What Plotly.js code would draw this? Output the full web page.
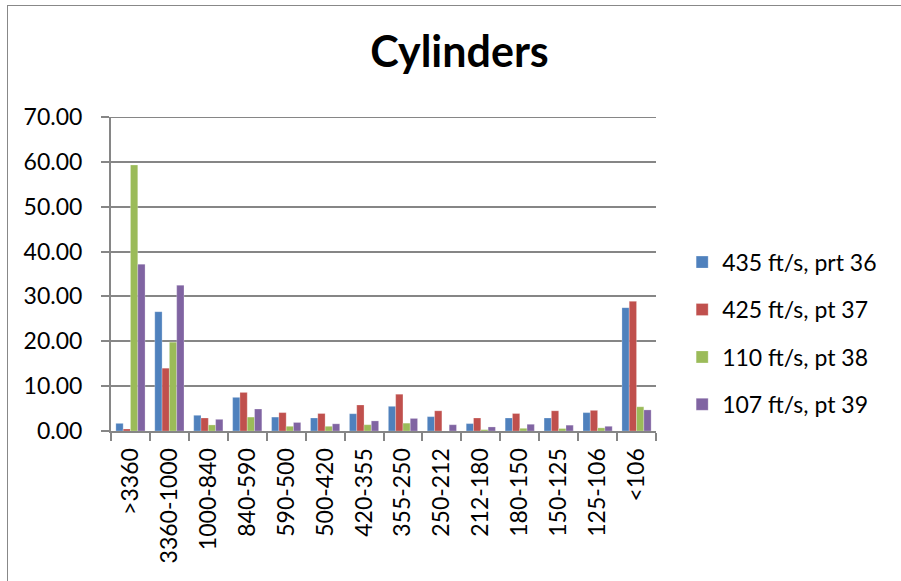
<!DOCTYPE html>
<html>
<head>
<meta charset="utf-8">
<script src="https://cdn.plot.ly/plotly-3.0.1.min.js"></script>
<style>
html,body{margin:0;padding:0;background:#fff;overflow:hidden;}
#frame{position:absolute;left:7px;top:5px;width:900px;height:580px;border:1px solid #888;}
#chart{position:absolute;left:0;top:0;width:901px;height:581px;}
</style>
</head>
<body>
<div id="frame"></div>
<div id="chart"></div>
<script>
const categories = [">3360","3360-1000","1000-840","840-590","590-500","500-420","420-355","355-250","250-212","212-180","180-150","150-125","125-106","<106"];
const seriesNames = ["435 ft/s, prt 36","425 ft/s, pt 37","110 ft/s, pt 38","107 ft/s, pt 39"];
const s435 = [1.7, 26.6, 3.5, 7.5, 3.1, 2.9, 3.85, 5.5, 3.2, 1.65, 2.9, 2.9, 4.1, 27.5];
const s425 = [0.45, 14.0, 2.9, 8.6, 4.1, 3.9, 5.8, 8.2, 4.5, 2.9, 3.9, 4.5, 4.6, 28.9];
const s110 = [59.3, 19.8, 1.35, 3.1, 1.05, 1.05, 1.4, 1.75, 0, 0.3, 0.6, 0.55, 0.7, 5.4];
const s107 = [37.2, 32.5, 2.6, 4.9, 1.9, 1.6, 2.25, 2.8, 1.4, 0.9, 1.5, 1.3, 1.05, 4.7];
const yTicks = [0, 10, 20, 30, 40, 50, 60, 70];
const colors = ["#4F81BD","#C0504D","#9BBB59","#8064A2"];
const allSeries = [s435, s425, s110, s107];

const FONT = "Lato, 'Open Sans', sans-serif";
const yMax = yTicks[yTicks.length - 1];

const traces = allSeries.map((vals, i) => ({
  type: "bar",
  x: categories,
  y: vals,
  name: seriesNames[i],
  legendgroup: "g" + i,
  marker: {color: colors[i], line: {color: "rgba(255,255,255,0.5)", width: 0.5}},
  hoverinfo: "skip"
}));

const layout = {
  width: 901, height: 581,
  paper_bgcolor: "rgba(0,0,0,0)",
  plot_bgcolor: "rgba(0,0,0,0)",
  margin: {l: 111, r: 245, t: 117, b: 150},
  barmode: "group",
  bargap: 0.25,
  bargroupgap: 0,
  title: {text: "<b>Cylinders</b>", font: {family: FONT, size: 43, color: "#000"}, x: 0.51, xanchor: "center", y: 0.91, yanchor: "middle"},
  font: {family: FONT, color: "#000"},
  xaxis: {
    type: "category",
    tickangle: -90,
    tickfont: {family: FONT, size: 23, color: "#000"},
    ticks: "outside", ticklen: 8, tickcolor: "#868686", tickwidth: 2,
    tickson: "boundaries",
    ticklabelstandoff: 6,
    showline: true, linecolor: "#868686", linewidth: 2,
    showgrid: false,
    fixedrange: true
  },
  yaxis: {
    range: [0, yMax], tickvals: yTicks, tickformat: ".2f",
    tickfont: {family: FONT, size: 23, color: "#000"},
    ticks: "outside", ticklen: 8, tickcolor: "#868686", tickwidth: 2,
    ticklabelstandoff: 14,
    showline: true, linecolor: "#868686", linewidth: 2,
    showgrid: true, gridcolor: "#868686", gridwidth: 2,
    zeroline: false,
    fixedrange: true
  },
  shapes: [{
    type: "line", xref: "paper", yref: "y",
    x0: 0, x1: 1, y0: yMax, y1: yMax,
    line: {color: "#868686", width: 2}, layer: "below"
  }],
  legend: {
    x: 1.048, xanchor: "left", y: 0.31, yanchor: "middle",
    font: {family: FONT, size: 23, color: "#000"},
    tracegroupgap: 14.5,
    bgcolor: "rgba(0,0,0,0)"
  },
  showlegend: true
};

Plotly.newPlot("chart", traces, layout, {displayModeBar: false, staticPlot: true});
</script>
</body>
</html>
